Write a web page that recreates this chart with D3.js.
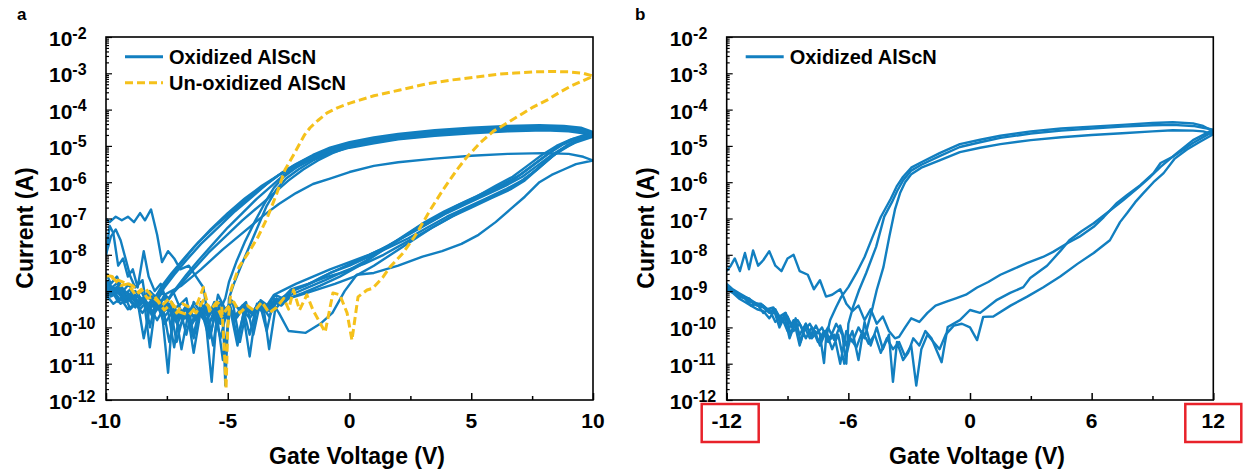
<!DOCTYPE html>
<html><head><meta charset="utf-8">
<script src="https://cdn.jsdelivr.net/npm/d3@7"></script>
<style>
html,body{margin:0;padding:0;background:#fff;}
svg text{font-family:"Liberation Sans",Arial,sans-serif;font-weight:bold;fill:#000;}
</style></head>
<body><svg id="c" width="1244" height="473"></svg>
<script>
// ---------------- DATA (gate voltage V, log10 of current in A) ----------------
const xTicksA = [-10, -5, 0, 5, 10];
const xMinorA = [-7.5, -2.5, 2.5, 7.5];
const xTicksB = [-12, -6, 0, 6, 12];
const xMinorB = [-9, -3, 3, 9];
const yDecades = [-12, -11, -10, -9, -8, -7, -6, -5, -4, -3, -2];
const legendA = ["Oxidized AlScN", "Un-oxidized AlScN"];
const legendB = ["Oxidized AlScN"];

// panel a : un-oxidized AlScN (one double sweep)
const unoxA = [[-10,-8.56],[-9.75,-8.6],[-9.5,-8.7],[-9.2,-8.78],[-8.9,-8.85],[-8.65,-9.05],[-8.4,-8.92],[-8.1,-9.15],[-7.85,-9.3],[-7.6,-9.52],[-7.3,-9.33],[-7.0,-9.57],[-6.6,-9.66],[-6.3,-9.43],[-6.0,-8.9],[-5.75,-9.55],[-5.5,-9.35],[-5.25,-9.7],[-5.0,-9.45],[-4.75,-9.3],[-4.5,-9.6],[-4.2,-9.4],[-3.9,-9.55],[-3.6,-9.3],[-3.3,-9.6],[-3.0,-9.45],[-2.7,-9.2],[-2.5,-9.5],[-2.3,-8.97],[-2.05,-9.52],[-1.75,-9.1],[-1.5,-9.52],[-1.0,-10.13],[-0.68,-9.05],[-0.4,-9.1],[-0.1,-9.6],[0.1,-10.35],[0.35,-9.16],[0.72,-8.97],[0.96,-8.92],[1.38,-8.61],[1.66,-8.34],[2.2,-7.95],[2.77,-7.4],[3.31,-6.77],[3.84,-6.21],[4.41,-5.66],[4.83,-5.3],[5.36,-4.92],[5.9,-4.6],[6.47,-4.37],[7.13,-4.1],[7.54,-3.93],[8.11,-3.74],[8.64,-3.52],[9.1,-3.35],[9.47,-3.24],[10,-3.08],
[9.6,-3.0],[9.0,-2.96],[8.3,-2.95],[7.54,-2.96],[6.8,-2.99],[6.18,-3.02],[5.2,-3.1],[4.13,-3.19],[3.1,-3.3],[2.07,-3.46],[1.0,-3.62],[0.02,-3.82],[-0.5,-3.95],[-0.92,-4.09],[-1.3,-4.3],[-1.62,-4.5],[-1.85,-4.7],[-2.03,-4.92],[-2.3,-5.25],[-2.65,-5.66],[-2.98,-6.3],[-3.39,-7.0],[-3.75,-7.5],[-4.13,-7.92],[-4.54,-8.34],[-4.87,-8.97],[-5.0,-10.0],[-5.07,-11.7],[-5.15,-10.5],[-5.25,-9.4],[-5.45,-9.3],[-5.7,-9.5],[-6.0,-9.25],[-6.3,-9.6],[-6.55,-9.45],[-6.85,-9.35],[-7.1,-9.6],[-7.4,-9.2],[-7.7,-9.4],[-8.0,-9.15],[-8.3,-9.2],[-8.55,-8.95],[-8.8,-9.1],[-9.1,-8.8],[-9.4,-8.85],[-9.7,-8.65],[-10,-8.6]];

// panel a : oxidized AlScN (several double sweeps)
const oxA1 = [[-10,-7.0],[-9.85,-7.1],[-9.6,-6.95],[-9.35,-7.05],[-9.1,-6.95],[-8.85,-7.1],[-8.6,-6.85],[-8.4,-7.05],[-8.15,-6.75],[-7.9,-7.45],[-7.7,-8.2],[-7.45,-7.9],[-7.2,-8.1],[-6.95,-8.4],[-6.6,-8.3],[-6.3,-8.6],[-6.0,-8.9],[-5.7,-10.2],[-5.4,-9.1],[-5.1,-9.5],[-4.8,-9.3],[-4.5,-10.4],[-4.2,-9.4],[-3.9,-9.6],[-3.6,-9.3],[-3.3,-9.55],[-3.0,-9.2],[-2.7,-9.3],[-2.4,-9.0],[-1.8,-8.85],[-1.1,-8.6],[-0.3,-8.35],[0.5,-8.1],[1.3,-7.85],[2.1,-7.55],[2.9,-7.25],[3.7,-6.95],[4.5,-6.65],[5.3,-6.4],[6.1,-6.15],[6.8,-5.9],[7.4,-5.6],[8.0,-5.3],[8.6,-5.0],[9.2,-4.8],[10,-4.62],
[9.5,-4.5],[8.8,-4.45],[7.8,-4.43],[6.5,-4.45],[5,-4.5],[3.5,-4.57],[2,-4.67],[1,-4.77],[0,-4.9],[-0.8,-5.05],[-1.5,-5.25],[-2.2,-5.5],[-2.8,-5.75],[-3.4,-6.05],[-4.1,-6.4],[-4.8,-6.8],[-5.5,-7.2],[-6.2,-7.65],[-6.8,-8.1],[-7.3,-8.5],[-7.7,-8.85],[-8.0,-9.2],[-8.3,-9.05],[-8.6,-9.35],[-8.9,-9.1],[-9.2,-9.3],[-9.5,-9.0],[-9.75,-9.1],[-10,-8.85]];
const oxA2 = [[-10,-8.0],[-9.8,-7.5],[-9.6,-7.3],[-9.4,-7.6],[-9.2,-8.1],[-9.0,-8.6],[-8.8,-8.9],[-8.5,-8.7],[-8.2,-10.0],[-7.9,-9.1],[-7.6,-9.5],[-7.3,-9.3],[-7.0,-9.7],[-6.7,-9.4],[-6.4,-10.7],[-6.1,-9.5],[-5.8,-9.9],[-5.5,-9.6],[-5.2,-9.7],[-4.9,-9.4],[-4.6,-10.3],[-4.3,-9.5],[-4.0,-9.6],[-3.7,-9.3],[-3.4,-9.4],[-3.1,-9.1],[-2.8,-9.0],[-2.2,-8.8],[-1.5,-8.6],[-0.8,-8.4],[0,-8.2],[0.8,-8.0],[1.6,-7.75],[2.4,-7.45],[3.2,-7.15],[4,-6.85],[4.8,-6.6],[5.6,-6.35],[6.4,-6.1],[7.1,-5.85],[7.7,-5.55],[8.3,-5.25],[8.9,-5.0],[9.5,-4.8],[10,-4.68],
[9.6,-4.55],[9,-4.5],[8,-4.47],[6.5,-4.5],[5,-4.55],[3.5,-4.62],[2,-4.72],[1,-4.82],[0,-4.95],[-0.8,-5.1],[-1.6,-5.3],[-2.3,-5.55],[-2.9,-5.8],[-3.4,-6.05],[-4,-6.4],[-4.7,-6.8],[-5.4,-7.25],[-6.1,-7.7],[-6.7,-8.15],[-7.2,-8.55],[-7.6,-8.9],[-7.9,-9.2],[-8.2,-9.0],[-8.5,-9.3],[-8.8,-9.1],[-9.1,-9.2],[-9.4,-8.9],[-9.7,-9.0],[-10,-8.8]];
const oxA3 = [[-10,-8.7],[-9.75,-8.9],[-9.5,-8.75],[-9.25,-9.1],[-9.0,-8.95],[-8.7,-9.4],[-8.45,-9.2],[-8.2,-10.55],[-7.95,-9.3],[-7.7,-9.6],[-7.45,-11.25],[-7.25,-9.5],[-7.0,-9.8],[-6.7,-9.4],[-6.4,-9.7],[-6.1,-9.5],[-5.85,-10.1],[-5.6,-9.6],[-5.3,-9.9],[-5.0,-9.5],[-4.7,-9.7],[-4.4,-9.45],[-4.1,-10.8],[-3.85,-9.6],[-3.6,-9.4],[-3.3,-9.7],[-3.0,-9.3],[-2.7,-9.15],[-2.2,-8.95],[-1.5,-8.75],[-0.8,-8.5],[0,-8.3],[0.8,-8.05],[1.6,-7.8],[2.4,-7.55],[3.2,-7.25],[4,-6.95],[4.8,-6.7],[5.6,-6.45],[6.4,-6.2],[7.1,-5.95],[7.7,-5.65],[8.3,-5.3],[8.9,-5.0],[9.5,-4.8],[10,-4.7],
[9.6,-4.6],[9,-4.55],[8,-4.52],[6.5,-4.55],[5,-4.6],[3.5,-4.67],[2,-4.77],[1,-4.87],[0,-5.0],[-0.8,-5.15],[-1.5,-5.35],[-2.2,-5.6],[-2.7,-5.85],[-3.1,-6.15],[-3.5,-6.6],[-3.9,-7.1],[-4.3,-7.65],[-4.65,-8.2],[-4.95,-8.75],[-5.1,-9.2],[-5.3,-9.5],[-5.55,-9.3],[-5.8,-9.7],[-6.1,-9.45],[-6.4,-10.3],[-6.7,-9.5],[-7.0,-9.7],[-7.3,-9.4],[-7.6,-9.55],[-7.9,-9.3],[-8.2,-9.45],[-8.5,-9.2],[-8.8,-9.3],[-9.1,-9.05],[-9.4,-9.1],[-9.7,-8.9],[-10,-8.95]];
const oxA4 = [[-10,-8.9],[-9.7,-9.1],[-9.45,-8.95],[-9.2,-9.3],[-8.9,-9.15],[-8.6,-9.5],[-8.35,-9.3],[-8.1,-9.7],[-7.85,-9.45],[-7.6,-9.9],[-7.3,-9.6],[-7.0,-10.0],[-6.75,-9.7],[-6.5,-9.95],[-6.2,-9.6],[-5.9,-9.85],[-5.66,-11.5],[-5.45,-9.7],[-5.2,-9.9],[-4.95,-9.55],[-4.7,-9.8],[-4.4,-9.5],[-4.1,-9.75],[-3.8,-9.45],[-3.5,-9.6],[-3.3,-10.6],[-3.05,-9.5],[-2.8,-9.3],[-2.4,-9.1],[-1.7,-8.9],[-1.0,-8.7],[-0.2,-8.45],[0.6,-8.25],[1.4,-8.0],[2.2,-7.7],[3.0,-7.4],[3.8,-7.1],[4.6,-6.8],[5.4,-6.55],[6.2,-6.3],[6.9,-6.05],[7.5,-5.75],[8.1,-5.4],[8.7,-5.1],[9.3,-4.9],[10,-4.75],
[9.6,-4.65],[9,-4.6],[8,-4.57],[6.5,-4.6],[5,-4.65],[3.5,-4.72],[2,-4.82],[1,-4.93],[0,-5.05],[-0.8,-5.2],[-1.5,-5.4],[-2.1,-5.65],[-2.6,-5.9],[-3.0,-6.2],[-3.4,-6.65],[-3.75,-7.2],[-4.1,-7.75],[-4.45,-8.3],[-4.75,-8.8],[-4.95,-9.2],[-5.1,-11.6],[-5.2,-9.5],[-5.5,-9.7],[-5.8,-9.4],[-6.1,-9.6],[-6.4,-9.3],[-6.7,-10.2],[-7.0,-9.4],[-7.3,-9.5],[-7.6,-9.2],[-7.9,-9.4],[-8.2,-9.1],[-8.5,-9.25],[-8.8,-9.0],[-9.1,-9.1],[-9.4,-8.85],[-9.7,-8.95],[-10,-8.75]];
const oxA5 = [[-10,-8.5],[-9.8,-8.8],[-9.55,-8.6],[-9.3,-9.0],[-9.05,-8.8],[-8.8,-9.2],[-8.55,-9.0],[-8.3,-9.4],[-8.0,-9.2],[-7.75,-9.6],[-7.5,-9.35],[-7.2,-10.55],[-6.95,-9.5],[-6.7,-9.75],[-6.45,-9.4],[-6.15,-9.65],[-5.9,-9.35],[-5.6,-10.5],[-5.35,-9.3],[-5.1,-9.55],[-4.85,-9.25],[-4.55,-9.5],[-4.25,-9.3],[-3.95,-10.2],[-3.65,-9.25],[-3.35,-9.4],[-3.05,-9.1],[-2.75,-9.2],[-2.4,-8.95],[-1.7,-8.8],[-0.9,-8.6],[-0.1,-8.45],[0.7,-8.15],[1.5,-7.8],[2.3,-7.45],[3.1,-7.1],[3.9,-6.8],[4.7,-6.55],[5.5,-6.3],[6.3,-6.05],[7.0,-5.8],[7.6,-5.5],[8.2,-5.2],[8.8,-4.95],[9.4,-4.78],[10,-4.65],
[9.5,-4.53],[8.8,-4.48],[7.8,-4.46],[6.5,-4.48],[5,-4.53],[3.5,-4.6],[2,-4.7],[1,-4.8],[0,-4.93],[-0.8,-5.08],[-1.5,-5.28],[-2.2,-5.55],[-2.9,-5.8],[-3.6,-6.1],[-4.3,-6.45],[-5.0,-6.85],[-5.7,-7.3],[-6.4,-7.8],[-7.0,-8.3],[-7.5,-8.75],[-7.9,-9.1],[-8.2,-9.4],[-8.5,-9.2],[-8.8,-9.45],[-9.1,-9.2],[-9.4,-9.35],[-9.7,-9.05],[-10,-9.1]];
const oxA6 = [[-10,-9.2],[-9.75,-9.0],[-9.5,-9.3],[-9.25,-9.1],[-9.0,-9.5],[-8.7,-9.3],[-8.45,-10.3],[-8.2,-9.45],[-7.9,-9.8],[-7.65,-9.5],[-7.4,-10.4],[-7.15,-9.6],[-6.9,-10.6],[-6.6,-9.55],[-6.3,-9.8],[-6.0,-9.5],[-5.75,-10.3],[-5.5,-9.6],[-5.2,-9.85],[-4.9,-9.5],[-4.6,-10.5],[-4.3,-9.4],[-4.0,-9.65],[-3.7,-9.4],[-3.4,-9.55],[-3.1,-9.3],[-2.8,-9.4],[-2.5,-9.2],[-2.0,-9.1],[-1.3,-8.95],[-0.6,-8.8],[0.2,-8.6],[1.0,-8.3],[1.8,-7.95],[2.6,-7.6],[3.4,-7.25],[4.2,-6.95],[5.0,-6.7],[5.8,-6.45],[6.6,-6.2],[7.2,-5.95],[7.8,-5.6],[8.4,-5.25],[9.0,-5.0],[9.5,-4.82],[10,-4.72],
[9.6,-4.62],[9,-4.57],[8,-4.55],[6.5,-4.57],[5,-4.62],[3.5,-4.7],[2,-4.8],[1,-4.9],[0,-5.02],[-0.7,-5.2],[-1.3,-5.4],[-1.9,-5.65],[-2.5,-5.95],[-3.1,-6.3],[-3.7,-6.65],[-4.4,-7.05],[-5.1,-7.5],[-5.8,-7.95],[-6.4,-8.4],[-6.9,-8.8],[-7.3,-9.1],[-7.6,-9.4],[-7.9,-9.25],[-8.2,-9.5],[-8.5,-9.3],[-8.8,-9.4],[-9.1,-9.15],[-9.4,-9.25],[-9.7,-9.0],[-10,-9.05]];
const oxA7 = [[-10,-8.0],[-9.85,-7.2],[-9.7,-7.4],[-9.5,-8.3],[-9.3,-8.1],[-9.1,-8.6],[-8.9,-8.4],[-8.7,-8.9],[-8.45,-7.9],[-8.25,-8.6],[-8.0,-9.0],[-7.75,-8.8],[-7.5,-9.3],[-7.25,-9.0],[-7.0,-9.4],[-6.7,-9.2],[-6.4,-10.2],[-6.1,-9.3],[-5.8,-9.7],[-5.5,-9.4],[-5.2,-10.9],[-4.9,-9.5],[-4.6,-9.7],[-4.3,-9.35],[-4.0,-9.6],[-3.7,-9.3],[-3.4,-10.1],[-3.1,-9.2],[-2.8,-9.35],[-2.5,-9.2],[-1.9,-9.05],[-1.2,-8.85],[-0.4,-8.6],[0.4,-8.3],[1.2,-7.95],[2.0,-7.6],[2.8,-7.25],[3.6,-6.95],[4.4,-6.65],[5.2,-6.4],[6.0,-6.1],[6.7,-5.85],[7.3,-5.55],[7.9,-5.25],[8.5,-5.0],[9.1,-4.82],[10,-4.68],
[9.5,-4.56],[8.8,-4.5],[7.8,-4.49],[6.5,-4.52],[5,-4.57],[3.5,-4.64],[2,-4.74],[1,-4.84],[0,-4.97],[-0.8,-5.12],[-1.5,-5.32],[-2.1,-5.55],[-2.7,-5.8],[-3.2,-6.1],[-3.8,-6.45],[-4.4,-6.85],[-5.0,-7.25],[-5.6,-7.7],[-6.2,-8.15],[-6.7,-8.55],[-7.1,-8.9],[-7.4,-9.2],[-7.7,-9.05],[-8.0,-9.35],[-8.3,-9.15],[-8.6,-9.4],[-8.9,-9.2],[-9.2,-9.3],[-9.5,-9.05],[-9.8,-9.15],[-10,-8.95]];
const oxA8 = [[-10,-8.8],[-9.75,-9.0],[-9.5,-8.85],[-9.2,-9.2],[-8.95,-9.05],[-8.7,-9.4],[-8.4,-9.2],[-8.15,-9.6],[-7.9,-9.4],[-7.6,-9.7],[-7.35,-9.5],[-7.1,-10.4],[-6.8,-9.6],[-6.5,-9.85],[-6.2,-9.55],[-5.9,-9.8],[-5.6,-9.5],[-5.3,-10.3],[-5.0,-9.45],[-4.7,-9.7],[-4.4,-9.4],[-4.1,-10.2],[-3.8,-9.35],[-3.5,-9.55],[-3.2,-9.3],[-2.9,-9.6],[-2.5,-10.1],[-1.8,-10.15],[-1.2,-9.9],[-0.7,-9.6],[-0.2,-9.0],[0.3,-8.55],[1.0,-8.5],[2.0,-8.3],[3.0,-8.05],[3.8,-7.9],[4.6,-7.7],[5.3,-7.45],[6.0,-7.1],[6.6,-6.75],[7.2,-6.4],[7.8,-6.0],[8.3,-5.8],[8.8,-5.65],[9.3,-5.5],[10,-5.4],
[9.6,-5.3],[9,-5.22],[8,-5.2],[6.5,-5.22],[5,-5.27],[3.5,-5.35],[2,-5.45],[1,-5.55],[0,-5.72],[-0.8,-5.9],[-1.5,-6.05],[-2.2,-6.3],[-2.9,-6.6],[-3.5,-6.9],[-4.3,-7.35],[-5.2,-7.85],[-6.1,-8.4],[-6.9,-8.85],[-7.6,-9.1],[-7.9,-9.5],[-8.2,-9.3],[-8.5,-9.6],[-8.8,-9.35],[-9.1,-9.5],[-9.4,-9.2],[-9.7,-9.35],[-10,-9.1]];

// panel b : oxidized AlScN (three double sweeps)
const oxB1 = [[-12,-8.45],[-11.8,-8.3],[-11.6,-8.1],[-11.35,-8.45],[-11.1,-7.95],[-10.9,-8.4],[-10.7,-7.88],[-10.45,-8.3],[-10.2,-8.15],[-9.9,-7.9],[-9.6,-8.3],[-9.3,-8.45],[-9.0,-8.1],[-8.7,-8.0],[-8.4,-8.45],[-8.0,-8.55],[-7.7,-8.95],[-7.4,-8.7],[-7.1,-9.15],[-6.8,-9.1],[-6.4,-8.95],[-6.1,-9.35],[-5.8,-9.55],[-5.5,-9.4],[-5.2,-9.8],[-4.9,-9.5],[-4.6,-9.9],[-4.3,-9.7],[-4.0,-10.1],[-3.7,-10.3],[-3.5,-10.26],[-3.2,-10.0],[-2.9,-9.75],[-2.5,-9.85],[-2.1,-9.6],[-1.7,-9.4],[-1.2,-9.3],[-0.7,-9.2],[-0.2,-9.1],[0.35,-8.9],[0.9,-8.75],[1.5,-8.55],[2.1,-8.4],[2.8,-8.23],[3.6,-8.06],[4.1,-7.92],[4.8,-7.68],[5.4,-7.5],[6.1,-7.23],[6.6,-6.96],[7.25,-6.57],[7.75,-6.35],[8.4,-6.08],[9.05,-5.75],[9.4,-5.47],[10,-5.3],[11,-4.92],[12,-4.6],
[11.5,-4.45],[11,-4.38],[10,-4.35],[9,-4.37],[7.5,-4.42],[6,-4.47],[4.5,-4.52],[3,-4.6],[1.5,-4.72],[0.5,-4.83],[-0.5,-4.95],[-1.5,-5.2],[-2.4,-5.45],[-2.9,-5.6],[-3.3,-5.85],[-3.6,-6.1],[-3.9,-6.45],[-4.4,-6.96],[-4.8,-7.5],[-5.2,-8.06],[-5.6,-8.5],[-6.0,-8.89],[-6.35,-9.16],[-6.6,-9.44],[-6.9,-9.8],[-7.1,-10.3],[-7.2,-10.98],[-7.4,-10.2],[-7.5,-10.1],[-7.8,-10.3],[-8.1,-9.9],[-8.4,-10.2],[-8.7,-9.8],[-9.0,-10.1],[-9.3,-9.7],[-9.6,-9.85],[-9.9,-9.5],[-10.2,-9.6],[-10.5,-9.35],[-10.8,-9.4],[-11.1,-9.2],[-11.4,-9.15],[-11.7,-9.0],[-12,-8.9]];
const oxB2 = [[-12,-8.85],[-11.7,-8.95],[-11.4,-9.1],[-11.1,-9.2],[-10.8,-9.3],[-10.5,-9.4],[-10.2,-9.45],[-9.9,-9.6],[-9.6,-9.5],[-9.35,-9.9],[-9.1,-9.6],[-8.85,-10.2],[-8.6,-9.75],[-8.35,-10.4],[-8.1,-9.9],[-7.85,-10.2],[-7.6,-9.95],[-7.3,-10.3],[-7.0,-10.0],[-6.7,-10.35],[-6.4,-9.95],[-6.1,-10.5],[-5.8,-10.1],[-5.5,-10.9],[-5.2,-9.85],[-4.9,-10.5],[-4.6,-10.0],[-4.3,-10.6],[-4.0,-10.2],[-3.8,-11.5],[-3.6,-10.4],[-3.3,-10.9],[-3.05,-10.7],[-2.8,-10.3],[-2.5,-10.5],[-2.2,-10.1],[-1.9,-10.3],[-1.4,-10.96],[-1.1,-9.99],[-0.5,-9.8],[0,-9.52],[0.5,-9.6],[1.33,-9.24],[1.98,-9.05],[2.63,-8.89],[2.97,-8.64],[3.8,-8.3],[4.45,-7.9],[4.9,-7.6],[5.5,-7.35],[6.1,-7.13],[6.75,-6.85],[7.55,-6.5],[8.3,-6.15],[8.9,-5.85],[9.4,-5.58],[10.2,-5.2],[11,-4.84],[12,-4.55],
[11.5,-4.5],[11,-4.45],[10,-4.42],[9,-4.43],[7.5,-4.47],[6,-4.52],[4.5,-4.58],[3,-4.66],[1.5,-4.78],[0.5,-4.9],[-0.5,-5.03],[-1.5,-5.28],[-2.4,-5.52],[-2.9,-5.68],[-3.3,-5.95],[-3.6,-6.25],[-3.85,-6.55],[-4.23,-6.95],[-4.63,-7.78],[-5.12,-8.5],[-5.47,-8.97],[-5.77,-9.44],[-6.0,-9.9],[-6.1,-11.0],[-6.3,-10.2],[-6.6,-9.9],[-6.9,-10.3],[-7.2,-10.1],[-7.5,-10.4],[-7.8,-10.0],[-8.1,-10.3],[-8.4,-9.9],[-8.7,-10.1],[-9.0,-9.7],[-9.3,-9.85],[-9.6,-9.5],[-9.9,-9.55],[-10.2,-9.4],[-10.5,-9.35],[-10.8,-9.25],[-11.1,-9.15],[-11.4,-9.05],[-11.7,-8.95],[-12,-8.8]];
const oxB3 = [[-12,-8.95],[-11.7,-9.05],[-11.4,-9.2],[-11.1,-9.3],[-10.8,-9.4],[-10.5,-9.5],[-10.2,-9.55],[-9.9,-9.75],[-9.65,-9.55],[-9.4,-10.0],[-9.15,-9.7],[-8.9,-10.3],[-8.65,-9.9],[-8.4,-10.5],[-8.15,-10.0],[-7.9,-10.3],[-7.65,-10.1],[-7.4,-10.5],[-7.1,-10.1],[-6.8,-10.6],[-6.5,-10.2],[-6.2,-11.0],[-5.9,-10.3],[-5.6,-10.55],[-5.3,-10.1],[-5.0,-10.45],[-4.7,-10.2],[-4.4,-10.7],[-4.1,-10.3],[-3.8,-10.6],[-3.5,-10.4],[-3.2,-10.8],[-2.9,-10.5],[-2.65,-11.6],[-2.4,-10.6],[-2.1,-10.2],[-1.8,-10.4],[-1.5,-10.6],[-1.2,-10.2],[-0.8,-9.95],[-0.4,-9.9],[0.0,-10.0],[0.35,-10.35],[0.65,-9.71],[1.15,-9.7],[2.0,-9.4],[2.8,-9.16],[3.6,-8.9],[4.45,-8.6],[5.3,-8.25],[6.1,-7.95],[6.9,-7.6],[7.4,-7.1],[7.75,-6.85],[8.15,-6.55],[8.55,-6.3],[9.05,-6.0],[9.55,-5.75],[10.1,-5.35],[10.7,-5.1],[11.3,-4.9],[12,-4.68],
[11.5,-4.6],[11,-4.58],[10,-4.57],[9,-4.6],[7.5,-4.65],[6,-4.7],[4.5,-4.76],[3,-4.84],[1.5,-4.95],[0.5,-5.05],[-0.5,-5.17],[-1.5,-5.4],[-2.4,-5.6],[-2.9,-5.78],[-3.2,-6.0],[-3.45,-6.3],[-3.7,-6.75],[-3.98,-7.5],[-4.27,-8.34],[-4.6,-8.97],[-4.8,-9.44],[-4.97,-9.8],[-5.2,-10.3],[-5.5,-10.0],[-5.8,-10.4],[-6.1,-10.1],[-6.4,-11.0],[-6.7,-10.2],[-7.0,-10.4],[-7.3,-10.0],[-7.6,-10.2],[-7.9,-9.9],[-8.2,-10.1],[-8.5,-9.8],[-8.8,-9.95],[-9.1,-9.6],[-9.4,-9.7],[-9.7,-9.45],[-10.0,-9.5],[-10.3,-9.35],[-10.6,-9.35],[-10.9,-9.2],[-11.2,-9.15],[-11.5,-9.05],[-11.8,-9.0],[-12,-8.92]];

// ---------------- DRAWING ----------------
const BLUE = "#127FC0", GOLD = "#F5C11B";
const svg = d3.select("#c");
const Y0 = 37, Y1 = 400;
const y = d3.scaleLog().domain([1e-12, 1e-2]).range([Y1, Y0]);

function panel(opt) {
  const x = d3.scaleLinear().domain(opt.dom).range([opt.x0, opt.x1]);
  const g = svg.append("g");
  const cid = "clip" + opt.id;
  svg.append("defs").append("clipPath").attr("id", cid)
    .append("rect").attr("x", opt.x0).attr("y", Y0).attr("width", opt.x1 - opt.x0).attr("height", Y1 - Y0);

  const line = d3.line().x(d => x(d[0])).y(d => y(Math.pow(10, d[1])));
  const gl = g.append("g").attr("clip-path", `url(#${cid})`);
  opt.series.forEach(s => {
    gl.append("path").datum(s.data).attr("d", line)
      .attr("fill", "none").attr("stroke", s.color).attr("stroke-width", s.w)
      .attr("stroke-linejoin", "round")
      .attr("stroke-dasharray", s.dash || null);
  });

  // frame
  g.append("rect").attr("x", opt.x0).attr("y", Y0).attr("width", opt.x1 - opt.x0).attr("height", Y1 - Y0)
    .attr("fill", "none").attr("stroke", "#000").attr("stroke-width", 1.6);

  // x axis ticks (inside)
  const xa = g.append("g").attr("transform", `translate(0,${Y1})`)
    .call(d3.axisBottom(x).tickValues(opt.major).tickSize(-7).tickFormat(""));
  const xm = g.append("g").attr("transform", `translate(0,${Y1})`)
    .call(d3.axisBottom(x).tickValues(opt.minor).tickSize(-4).tickFormat(""));
  [xa, xm].forEach(a => { a.select(".domain").remove(); a.selectAll("line").attr("stroke", "#000").attr("stroke-width", 1.5); });
  g.selectAll(null).data(opt.major).enter().append("text")
    .attr("x", d => x(d)).attr("y", 428).attr("text-anchor", "middle")
    .style("font-size", "21px").text(d => d);

  // y axis ticks (inside)
  const minor = [];
  yDecades.forEach(p => { if (p < -2) for (let m = 2; m <= 9; m++) minor.push(m * Math.pow(10, p)); });
  const ya = g.append("g").attr("transform", `translate(${opt.x0},0)`)
    .call(d3.axisLeft(y).tickValues(yDecades.map(p => Math.pow(10, p))).tickSize(-6).tickFormat(""));
  const ym = g.append("g").attr("transform", `translate(${opt.x0},0)`)
    .call(d3.axisLeft(y).tickValues(minor).tickSize(-3).tickFormat(""));
  [ya, ym].forEach(a => { a.select(".domain").remove(); a.selectAll("line").attr("stroke", "#000").attr("stroke-width", 1.2); });
  const yl = g.selectAll(null).data(yDecades).enter().append("text")
    .attr("x", opt.x0 - 57).attr("y", d => y(Math.pow(10, d)) + 9).attr("text-anchor", "start")
    .style("font-size", "21px");
  yl.append("tspan").text("10");
  yl.append("tspan").attr("dy", -7.5).style("font-size", "16px").text(d => "-" + Math.abs(d));

  // axis titles
  g.append("text").attr("x", opt.xt).attr("y", 464).attr("text-anchor", "middle")
    .style("font-size", "23px").text("Gate Voltage (V)");
  g.append("text").attr("transform", `translate(${opt.x0 - 73},228) rotate(-90)`)
    .attr("text-anchor", "middle").style("font-size", "23px").text("Current (A)");

  // panel letter
  g.append("text").attr("x", opt.lx).attr("y", 20).style("font-size", "17px").text(opt.id);

  // legend
  opt.legend.forEach((L, i) => {
    const ly = 56.7 + i * 26;
    g.append("line").attr("x1", opt.x0 + 19).attr("x2", opt.x0 + 57).attr("y1", ly).attr("y2", ly)
      .attr("stroke", L.color).attr("stroke-width", 3).attr("stroke-dasharray", L.dash || null);
    g.append("text").attr("x", opt.x0 + 63).attr("y", ly + 7).style("font-size", "20px").text(L.name);
  });
  return x;
}

const blueA = [oxA1, oxA2, oxA3, oxA4, oxA5, oxA6, oxA7, oxA8];
panel({
  id: "a", x0: 106, x1: 593, dom: [-10, 10], major: xTicksA, minor: xMinorA, xt: 357, lx: 17,
  series: blueA.map(d => ({ data: d, color: BLUE, w: 2.4 }))
    .concat([{ data: unoxA, color: GOLD, w: 3, dash: "8,4" }]),
  legend: [{ name: legendA[0], color: BLUE }, { name: legendA[1], color: GOLD, dash: "8,4" }]
});
const xb = panel({
  id: "b", x0: 726.7, x1: 1213.3, dom: [-12, 12], major: xTicksB, minor: xMinorB, xt: 977, lx: 635,
  series: [oxB1, oxB2, oxB3].map(d => ({ data: d, color: BLUE, w: 2.4 })),
  legend: [{ name: legendB[0], color: BLUE }]
});

// red highlight boxes around the end tick labels of panel b
[-12, 12].forEach(v => {
  const cx = xb(v), w = v < 0 ? 57 : 56;
  const left = v < 0 ? cx - 25 : cx - 28;
  svg.append("rect").attr("x", left).attr("y", 404).attr("width", w).attr("height", 38)
    .attr("fill", "none").attr("stroke", "#E8222A").attr("stroke-width", 2.5);
});
</script></body></html>
